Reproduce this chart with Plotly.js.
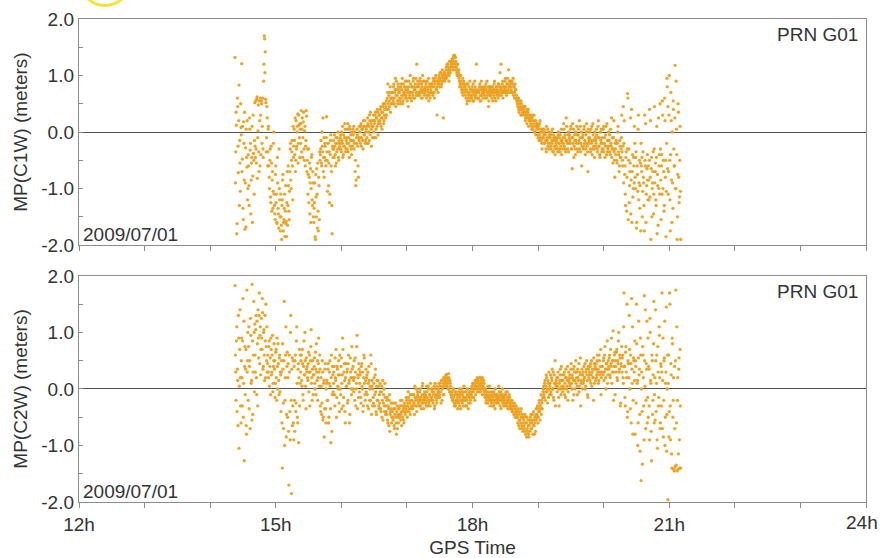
<!DOCTYPE html>
<html>
<head>
<meta charset="utf-8">
<script src="https://cdn.plot.ly/plotly-3.0.1.min.js"></script>
<style>html,body{margin:0;padding:0;background:#fff;}#chart{width:880px;height:558px;}</style>
</head>
<body>
<div id="chart"></div>
<script>
// GPS epochs, first pass (hours)
const epochs = [
14.38,14.39,14.40,14.41,14.42,14.43,14.44,14.45,14.46,14.47,
14.48,14.49,14.50,14.51,14.52,14.53,14.54,14.55,14.56,14.57,
14.58,14.59,14.60,14.61,14.62,14.63,14.64,14.65,14.66,14.67,
14.68,14.69,14.70,14.71,14.72,14.73,14.74,14.75,14.76,14.77,
14.78,14.79,14.80,14.81,14.82,14.83,14.84,14.85,14.86,14.87,
14.88,14.89,14.90,14.91,14.92,14.93,14.94,14.95,14.96,14.97,
14.98,14.99,15.00,15.01,15.02,15.03,15.04,15.05,15.06,15.07,
15.08,15.09,15.10,15.11,15.12,15.13,15.14,15.15,15.16,15.17,
15.18,15.19,15.20,15.21,15.22,15.23,15.24,15.25,15.26,15.27,
15.28,15.29,15.30,15.31,15.32,15.33,15.34,15.35,15.36,15.37,
15.38,15.39,15.40,15.41,15.42,15.43,15.44,15.45,15.46,15.47,
15.48,15.49,15.50,15.51,15.52,15.53,15.54,15.55,15.56,15.57,
15.58,15.59,15.60,15.61,15.62,15.63,15.64,15.65,15.66,15.67,
15.68,15.69,15.70,15.71,15.72,15.73,15.74,15.75,15.76,15.77,
15.78,15.79,15.80,15.81,15.82,15.83,15.84,15.85,15.86,15.87,
15.88,15.89,15.90,15.91,15.92,15.93,15.94,15.95,15.96,15.97,
15.98,15.99,16.00,16.01,16.02,16.03,16.04,16.05,16.06,16.07,
16.08,16.09,16.10,16.11,16.12,16.13,16.14,16.15,16.16,16.17,
16.18,16.19,16.20,16.21,16.22,16.23,16.24,16.25,16.26,16.27,
16.28,16.29,16.30,16.31,16.32,16.33,16.34,16.35,16.36,16.37,
16.38,16.39,16.40,16.41,16.42,16.43,16.44,16.45,16.46,16.47,
16.48,16.49,16.50,16.51,16.52,16.53,16.54,16.55,16.56,16.57,
16.58,16.59,16.60,16.61,16.62,16.63,16.64,16.65,16.66,16.67,
16.68,16.69,16.70,16.71,16.72,16.73,16.74,16.75,16.76,16.77,
16.78,16.79,16.80,16.81,16.82,16.83,16.84,16.85,16.86,16.87,
16.88,16.89,16.90,16.91,16.92,16.93,16.94,16.95,16.96,16.97,
16.98,16.99,17.00,17.01,17.02,17.03,17.04,17.05,17.06,17.07,
17.08,17.09,17.10,17.11,17.12,17.13,17.14,17.15,17.16,17.17,
17.18,17.19,17.20,17.21,17.22,17.23,17.24,17.25,17.26,17.27,
17.28,17.29,17.30,17.31,17.32,17.33,17.34,17.35,17.36,17.37,
17.38,17.39,17.40,17.41,17.42,17.43,17.44,17.45,17.46,17.47,
17.48,17.49,17.50,17.51,17.52,17.53,17.54,17.55,17.56,17.57,
17.58,17.59,17.60,17.61,17.62,17.63,17.64,17.65,17.66,17.67,
17.68,17.69,17.70,17.71,17.72,17.73,17.74,17.75,17.76,17.77,
17.78,17.79,17.80,17.81,17.82,17.83,17.84,17.85,17.86,17.87,
17.88,17.89,17.90,17.91,17.92,17.93,17.94,17.95,17.96,17.97,
17.98,17.99,18.00,18.01,18.02,18.03,18.04,18.05,18.06,18.07,
18.08,18.09,18.10,18.11,18.12,18.13,18.14,18.15,18.16,18.17,
18.18,18.19,18.20,18.21,18.22,18.23,18.24,18.25,18.26,18.27,
18.28,18.29,18.30,18.31,18.32,18.33,18.34,18.35,18.36,18.37,
18.38,18.39,18.40,18.41,18.42,18.43,18.44,18.45,18.46,18.47,
18.48,18.49,18.50,18.51,18.52,18.53,18.54,18.55,18.56,18.57,
18.58,18.59,18.60,18.61,18.62,18.63,18.64,18.65,18.66,18.67,
18.68,18.69,18.70,18.71,18.72,18.73,18.74,18.75,18.76,18.77,
18.78,18.79,18.80,18.81,18.82,18.83,18.84,18.85,18.86,18.87,
18.88,18.89,18.90,18.91,18.92,18.93,18.94,18.95,18.96,18.97,
18.98,18.99,19.00,19.01,19.02,19.03,19.04,19.05,19.06,19.07,
19.08,19.09,19.10,19.11,19.12,19.13,19.14,19.15,19.16,19.17,
19.18,19.19,19.20,19.21,19.22,19.23,19.24,19.25,19.26,19.27,
19.28,19.29,19.30,19.31,19.32,19.33,19.34,19.35,19.36,19.37,
19.38,19.39,19.40,19.41,19.42,19.43,19.44,19.45,19.46,19.47,
19.48,19.49,19.50,19.51,19.52,19.53,19.54,19.55,19.56,19.57,
19.58,19.59,19.60,19.61,19.62,19.63,19.64,19.65,19.66,19.67,
19.68,19.69,19.70,19.71,19.72,19.73,19.74,19.75,19.76,19.77,
19.78,19.79,19.80,19.81,19.82,19.83,19.84,19.85,19.86,19.87,
19.88,19.89,19.90,19.91,19.92,19.93,19.94,19.95,19.96,19.97,
19.98,19.99,20.00,20.01,20.02,20.03,20.04,20.05,20.06,20.07,
20.08,20.09,20.10,20.11,20.12,20.13,20.14,20.15,20.16,20.17,
20.18,20.19,20.20,20.21,20.22,20.23,20.24,20.25,20.26,20.27,
20.28,20.29,20.30,20.31,20.32,20.33,20.34,20.35,20.36,20.37,
20.38,20.39,20.40,20.41,20.42,20.43,20.44,20.45,20.46,20.47,
20.48,20.49,20.50,20.51,20.52,20.53,20.54,20.55,20.56,20.57,
20.58,20.59,20.60,20.61,20.62,20.63,20.64,20.65,20.66,20.67,
20.68,20.69,20.70,20.71,20.72,20.73,20.74,20.75,20.76,20.77,
20.78,20.79,20.80,20.81,20.82,20.83,20.84,20.85,20.86,20.87,
20.88,20.89,20.90,20.91,20.92,20.93,20.94,20.95,20.96,20.97,
20.98,20.99,21.00,21.01,21.02,21.03,21.04,21.05,21.06,21.07,
21.08,21.09,21.10,21.11,21.12,21.13,21.14,21.15,21.16,21.17
];

// MP(C1W) at first-pass epochs (meters)
const mpC1W = [
1.32,-0.35,0.12,-1.62,0.45,-0.72,0.83,-0.15,-1.05,0.08,
1.21,-0.48,-1.35,0.18,-0.85,-1.72,-0.28,0.05,-0.62,-1.2,
-0.4,-0.95,0.25,-0.32,-1.45,-0.55,0.1,-0.78,-0.38,-1.1,
0.52,-0.45,-0.3,0.58,-0.82,0.02,-0.35,0.55,-0.6,0.3,
0.55,-0.2,0.6,-0.45,1.2,1.65,1.42,0.52,-0.1,0.25,
-0.35,0.1,-0.8,-0.5,-1.15,-0.25,-1.4,-0.7,-1.05,0.0,
-1.3,-1.55,-0.6,-1.1,-1.62,-0.9,-1.45,-0.3,-1.2,-1.75,
-1.5,-1.9,-1.2,-0.75,-1.6,-1.35,-1.85,-0.95,-1.58,-1.25,
-1.65,-0.6,-1.4,-1.05,-0.3,-0.85,-0.5,-0.15,-1.2,-0.45,
0.05,-0.4,-0.7,0.2,-0.25,0.1,-0.55,0.3,-0.1,0.15,
-0.2,0.38,0.05,-0.45,0.18,-0.3,0.02,-0.6,-0.15,0.28,
-0.5,-1.1,-0.3,-0.8,-1.45,-0.65,-1.0,-0.4,-1.3,-0.9,
-1.6,-1.25,-1.85,-0.75,-1.5,-1.1,-0.55,-1.75,-0.95,-0.35,
-0.4,-0.15,-0.6,-0.25,0.25,-0.45,-0.8,-0.2,-0.5,-0.1,
-0.35,-1.05,-0.2,-0.55,-1.25,-0.4,-0.05,-0.7,-1.8,-0.3,
-0.15,-0.45,-0.25,-0.6,-0.1,-0.35,-0.2,0.0,-0.5,-0.3,
-0.2,-0.05,-0.35,-0.15,0.1,-0.4,-0.25,-0.1,0.05,-0.3,
-0.1,-0.3,0.15,-0.2,-0.45,0.05,-0.15,-0.3,0.0,-0.25,
-0.05,0.1,-0.2,-0.7,-0.95,-0.1,0.05,-0.25,-0.8,-0.15,
0.0,-0.2,0.15,-0.1,0.05,-0.3,0.1,-0.05,0.2,-0.15,
0.05,-0.1,0.25,-0.2,0.1,0.3,-0.05,0.15,-0.25,0.2,
0.1,0.3,-0.1,0.2,0.35,0.05,0.25,0.4,-0.05,0.2,
0.3,0.15,0.45,0.25,0.05,0.35,0.5,0.2,0.4,0.3,
0.45,0.3,0.6,0.85,0.4,0.55,0.7,0.35,0.6,0.5,
0.7,0.55,0.85,0.6,0.75,0.45,0.9,0.65,0.5,0.8,
0.6,0.75,0.5,0.85,0.65,0.95,0.55,0.7,0.8,0.6,
0.75,0.6,0.9,0.7,0.45,0.8,0.65,1.0,0.7,0.55,
0.8,0.65,0.95,0.75,0.6,0.85,0.7,1.2,0.8,0.65,
0.85,0.7,0.95,0.75,0.6,0.8,1.0,0.7,0.9,0.75,
0.7,0.85,0.6,0.9,0.75,0.95,0.65,0.8,0.7,0.85,
0.85,0.7,0.95,0.8,0.6,0.9,1.0,0.75,0.3,0.85,
0.9,1.0,0.8,0.95,1.05,0.85,1.1,0.9,1.0,0.95,
1.05,0.95,1.15,1.0,1.2,1.1,0.9,1.25,1.05,1.15,
1.2,1.3,1.1,1.35,1.25,1.15,1.32,1.2,1.05,1.1,
1.0,1.1,0.9,0.85,1.0,0.8,0.7,0.95,0.75,0.85,
0.7,0.8,0.6,0.75,0.55,0.85,0.65,0.7,0.9,0.6,
0.75,0.6,0.7,0.85,0.55,0.7,0.8,0.65,1.2,0.7,
0.6,0.75,0.7,0.85,0.65,0.55,0.8,0.7,0.6,0.75,
0.7,0.8,0.6,0.75,0.9,0.65,0.7,0.55,0.8,0.7,
0.65,0.8,0.7,0.55,0.75,0.85,0.6,0.7,0.8,0.65,
0.75,0.6,0.85,0.7,1.05,0.8,0.65,0.75,0.9,0.7,
0.8,0.7,0.95,0.75,0.65,0.85,0.7,1.1,0.8,0.9,
0.85,0.75,0.9,0.7,0.95,0.8,0.6,0.85,0.75,0.65,
0.55,0.45,0.6,0.35,0.5,0.4,0.55,0.3,0.45,0.35,
0.4,0.3,0.45,0.25,0.35,0.15,0.3,0.4,0.2,0.25,
0.2,0.3,0.1,0.25,0.05,0.15,0.3,0.0,0.2,0.1,
0.05,0.15,-0.1,0.1,-0.05,0.2,0.0,-0.15,-0.3,0.05,
-0.1,0.05,-0.2,-0.05,-0.3,0.1,-0.15,-0.25,0.0,-0.1,
-0.2,-0.05,-0.3,-0.15,0.05,-0.35,-0.1,-0.25,-0.4,-0.15,
-0.25,-0.1,-0.35,0.0,-0.2,-0.3,-0.05,-0.15,-0.4,-0.2,
-0.1,0.15,-0.25,-0.05,-0.35,0.25,-0.15,-0.3,0.0,-0.2,
-0.05,-0.2,0.1,-0.3,-0.65,-0.1,0.05,-0.25,-0.15,-0.4,
-0.15,0.1,-0.3,-0.05,-0.2,0.2,-0.1,-0.35,0.0,-0.25,
-0.1,-0.3,0.05,-0.2,-0.4,-0.05,0.15,-0.25,-0.7,-0.1,
-0.2,0.0,-0.35,-0.15,0.1,-0.3,-0.05,-0.25,-0.45,-0.1,
-0.15,0.05,-0.3,-0.1,0.2,-0.25,-0.4,0.0,-0.2,-0.35,
-0.1,-0.3,0.1,-0.2,-0.45,-0.05,-0.25,0.15,-0.35,-0.15,
-0.25,-0.05,-0.4,-0.2,0.25,-0.3,-0.55,-0.1,-0.35,-0.8,
-0.3,-0.15,-0.5,-0.2,0.1,-0.4,-0.6,-0.25,-0.45,-0.1,
-0.35,-0.6,0.45,-0.2,-0.75,-1.1,-0.45,-1.4,-0.3,0.6,
-0.5,-1.25,-0.7,0.25,-0.85,-1.6,-0.4,-1.0,-0.6,0.1,
-0.8,-0.45,-1.7,-0.6,-1.05,0.3,-0.9,-1.35,-0.55,-0.2,
-0.7,-1.5,-0.35,-0.9,-1.75,-0.5,0.15,-1.1,-0.65,-0.85,
-0.6,-1.2,0.4,-0.8,-1.9,-0.45,-1.0,-0.7,-1.45,-0.3,
-0.9,-0.55,-1.3,0.1,-0.75,-1.65,-1.0,-0.4,0.5,-0.85,
-0.6,-1.1,0.3,-0.5,-1.4,0.6,-0.8,-1.85,-0.2,0.8,
0.45,-0.7,1.0,-1.2,-0.4,0.2,-1.6,-0.9,0.55,-0.3,
-0.6,1.18,-1.0,0.05,-1.9,-0.75,0.35,-1.25,-0.5,-1.05
];

// MP(C2W) at first-pass epochs (meters)
const mpC2W = [
1.83,0.3,0.85,-0.4,0.15,1.3,-1.05,0.7,0.2,-0.6,
0.9,-0.3,1.6,0.1,-1.27,0.75,0.35,-0.65,1.75,0.5,
-0.2,1.1,0.4,-0.7,0.95,0.15,1.85,-0.45,0.6,1.0,
1.15,0.3,1.3,-0.1,0.8,1.4,0.55,1.7,0.95,0.25,
1.25,0.7,1.35,0.4,1.05,0.15,0.85,1.5,0.5,0.3,
0.6,0.2,0.85,0.4,-0.1,0.7,0.3,0.95,0.1,0.5,
0.35,-0.15,0.65,0.2,0.9,0.0,0.45,-0.1,0.6,0.3,
-0.4,0.5,-1.4,0.35,-0.7,1.55,-0.2,0.6,-0.85,0.4,
-0.5,0.45,-1.7,0.3,-0.9,1.3,-1.85,0.55,-0.3,-0.6,
0.4,-0.75,0.6,-0.25,1.1,-0.5,0.35,-0.95,0.7,0.1,
0.3,0.6,0.05,0.45,-0.2,0.85,0.25,0.5,-0.35,0.35,
0.4,0.15,0.65,0.3,-0.3,0.5,1.05,0.2,0.35,-0.1,
0.25,0.55,0.0,0.35,0.8,0.15,-0.2,0.45,0.3,0.6,
-0.3,0.2,-0.45,0.5,-0.55,0.1,-0.85,0.35,-0.35,0.0,
0.15,-0.2,0.45,-0.5,0.3,0.05,-0.95,0.6,-0.1,0.25,
0.1,0.4,-0.3,0.2,0.7,-0.15,0.35,0.0,0.5,-0.4,
0.25,-0.1,0.55,0.1,0.9,-0.3,0.3,0.15,-0.6,0.45,
0.05,0.35,-0.2,0.6,0.15,-0.45,0.3,0.0,0.75,0.2,
0.4,-0.05,0.2,0.55,-0.3,0.1,0.95,0.25,-0.15,0.35,
0.1,0.3,-0.25,0.45,0.0,-0.4,0.2,0.55,-0.1,0.15,
-0.05,0.25,-0.3,0.1,0.4,-0.2,0.05,0.6,-0.45,0.15,
0.0,-0.25,0.2,-0.1,0.35,-0.4,0.05,-0.2,0.15,-0.3,
-0.1,0.1,-0.35,-0.05,-0.5,0.15,-0.25,0.0,-0.4,-0.15,
-0.3,-0.45,-0.15,-0.6,-0.35,-0.2,-0.75,-0.4,-0.25,-0.5,
-0.4,-0.55,-0.25,-0.7,-0.35,-0.5,-0.8,-0.3,-0.45,-0.6,
-0.35,-0.5,-0.2,-0.45,-0.65,-0.3,-0.4,-0.55,-0.25,-0.4,
-0.3,-0.15,-0.4,-0.25,-0.05,-0.35,-0.2,-0.45,-0.1,-0.3,
-0.2,-0.35,-0.1,-0.25,0.05,-0.3,-0.15,-0.4,-0.05,-0.2,
-0.15,-0.3,0.0,-0.2,-0.35,-0.1,0.1,-0.25,-0.15,-0.05,
-0.1,-0.25,0.05,-0.15,-0.3,0.0,-0.2,-0.1,0.1,-0.2,
-0.15,0.0,-0.25,-0.05,-0.35,0.1,-0.1,-0.2,0.05,-0.15,
-0.05,0.1,-0.15,0.05,-0.25,0.15,0.0,-0.1,0.2,0.05,
0.2,0.1,0.25,0.05,0.15,0.0,0.2,-0.05,0.1,-0.1,
-0.15,-0.05,-0.2,0.0,-0.25,-0.1,-0.3,-0.05,-0.2,-0.15,
-0.1,-0.25,0.0,-0.15,-0.35,-0.05,-0.2,-0.1,-0.3,0.05,
-0.2,-0.05,-0.15,-0.3,0.0,-0.1,-0.25,-0.15,-0.05,-0.2,
-0.1,0.05,-0.05,0.1,-0.15,0.0,0.15,-0.1,0.05,0.2,
0.05,0.15,-0.05,0.1,0.2,0.0,0.1,-0.1,0.05,0.15,
-0.05,-0.15,0.0,-0.2,-0.1,-0.25,-0.05,-0.15,0.05,-0.2,
-0.15,-0.25,-0.05,-0.2,-0.3,-0.1,-0.2,0.0,-0.15,-0.25,
-0.1,-0.2,0.05,-0.15,-0.3,-0.05,-0.2,-0.1,-0.25,-0.15,
-0.2,-0.1,-0.3,-0.05,-0.25,-0.15,-0.35,-0.2,-0.1,-0.3,
-0.25,-0.35,-0.2,-0.4,-0.3,-0.45,-0.25,-0.5,-0.35,-0.4,
-0.45,-0.6,-0.35,-0.55,-0.7,-0.4,-0.5,-0.65,-0.45,-0.75,
-0.55,-0.7,-0.45,-0.8,-0.6,-0.5,-0.75,-0.65,-0.85,-0.55,
-0.6,-0.45,-0.7,-0.55,-0.8,-0.4,-0.65,-0.5,-0.75,-0.35,
-0.5,-0.3,-0.6,-0.4,-0.2,-0.55,-0.35,-0.45,-0.25,-0.15,
0.0,-0.1,0.1,-0.2,0.05,0.2,-0.05,0.15,-0.15,0.0,
0.05,0.25,-0.1,0.15,0.0,0.3,-0.2,0.1,0.5,0.05,
0.1,-0.05,0.2,0.0,-0.3,0.15,0.35,-0.1,0.05,0.25,
0.15,0.0,0.3,0.1,-0.15,0.2,0.05,0.4,-0.05,0.15,
0.2,0.05,0.35,0.1,0.25,-0.2,0.15,0.4,0.0,0.3,
0.1,0.3,-0.1,0.2,0.45,0.05,0.25,-0.3,0.15,0.35,
0.25,0.1,0.4,0.2,0.0,0.3,0.5,0.15,-0.15,0.35,
0.3,0.15,0.45,0.25,0.05,0.35,0.2,0.55,0.1,0.4,
0.35,0.2,0.5,0.3,0.1,0.6,0.25,0.4,-0.1,0.3,
0.4,0.25,0.55,0.3,0.75,0.2,0.45,0.35,0.1,0.5,
0.35,0.6,0.2,0.45,0.9,0.3,0.5,-0.2,0.4,0.65,
0.5,0.3,0.7,0.15,0.45,1.0,0.35,0.55,-0.25,0.4,
0.3,0.6,0.1,1.7,0.4,-0.3,0.75,0.2,-0.5,0.5,
0.45,1.3,0.0,0.6,-0.6,0.35,1.1,-0.2,0.5,0.15,
-0.8,0.4,1.5,0.1,-1.0,0.55,0.25,-0.45,0.9,-1.62,
0.3,-1.33,0.6,-0.3,1.65,0.05,-0.7,0.45,1.2,-0.15,
-0.5,0.35,-0.9,1.0,0.1,-1.27,0.5,-0.2,0.8,-0.6,
0.2,1.4,-0.4,0.6,-1.05,0.3,-0.15,0.95,-0.7,0.45,
-0.3,1.7,0.15,-0.85,0.5,1.2,-0.5,0.3,-1.1,0.0,
-1.96,0.6,-0.4,1.5,-0.9,0.25,-1.4,0.8,-0.2,-1.42,
0.4,-1.38,1.75,-0.6,-1.45,0.2,-1.15,0.55,-1.4,-0.3
];

// GPS epochs, second pass (hours)
const epochsB = [
14.385,14.395,14.405,14.415,14.425,14.435,14.445,14.455,14.465,14.475,
14.485,14.495,14.505,14.515,14.525,14.535,14.545,14.555,14.565,14.575,
14.585,14.595,14.605,14.615,14.625,14.635,14.645,14.655,14.665,14.675,
14.685,14.695,14.705,14.715,14.725,14.735,14.745,14.755,14.765,14.775,
14.785,14.795,14.805,14.815,14.825,14.835,14.845,14.855,14.865,14.875,
14.885,14.895,14.905,14.915,14.925,14.935,14.945,14.955,14.965,14.975,
14.985,14.995,15.005,15.015,15.025,15.035,15.045,15.055,15.065,15.075,
15.085,15.095,15.105,15.115,15.125,15.135,15.145,15.155,15.165,15.175,
15.185,15.195,15.205,15.215,15.225,15.235,15.245,15.255,15.265,15.275,
15.285,15.295,15.305,15.315,15.325,15.335,15.345,15.355,15.365,15.375,
15.385,15.395,15.405,15.415,15.425,15.435,15.445,15.455,15.465,15.475,
15.485,15.495,15.505,15.515,15.525,15.535,15.545,15.555,15.565,15.575,
15.585,15.595,15.605,15.615,15.625,15.635,15.645,15.655,15.665,15.675,
15.685,15.695,15.705,15.715,15.725,15.735,15.745,15.755,15.765,15.775,
15.785,15.795,15.805,15.815,15.825,15.835,15.845,15.855,15.865,15.875,
15.885,15.895,15.905,15.915,15.925,15.935,15.945,15.955,15.965,15.975,
15.985,15.995,16.005,16.015,16.025,16.035,16.045,16.055,16.065,16.075,
16.085,16.095,16.105,16.115,16.125,16.135,16.145,16.155,16.165,16.175,
16.185,16.195,16.205,16.215,16.225,16.235,16.245,16.255,16.265,16.275,
16.285,16.295,16.305,16.315,16.325,16.335,16.345,16.355,16.365,16.375,
16.385,16.395,16.405,16.415,16.425,16.435,16.445,16.455,16.465,16.475,
16.485,16.495,16.505,16.515,16.525,16.535,16.545,16.555,16.565,16.575,
16.585,16.595,16.605,16.615,16.625,16.635,16.645,16.655,16.665,16.675,
16.685,16.695,16.705,16.715,16.725,16.735,16.745,16.755,16.765,16.775,
16.785,16.795,16.805,16.815,16.825,16.835,16.845,16.855,16.865,16.875,
16.885,16.895,16.905,16.915,16.925,16.935,16.945,16.955,16.965,16.975,
16.985,16.995,17.005,17.015,17.025,17.035,17.045,17.055,17.065,17.075,
17.085,17.095,17.105,17.115,17.125,17.135,17.145,17.155,17.165,17.175,
17.185,17.195,17.205,17.215,17.225,17.235,17.245,17.255,17.265,17.275,
17.285,17.295,17.305,17.315,17.325,17.335,17.345,17.355,17.365,17.375,
17.385,17.395,17.405,17.415,17.425,17.435,17.445,17.455,17.465,17.475,
17.485,17.495,17.505,17.515,17.525,17.535,17.545,17.555,17.565,17.575,
17.585,17.595,17.605,17.615,17.625,17.635,17.645,17.655,17.665,17.675,
17.685,17.695,17.705,17.715,17.725,17.735,17.745,17.755,17.765,17.775,
17.785,17.795,17.805,17.815,17.825,17.835,17.845,17.855,17.865,17.875,
17.885,17.895,17.905,17.915,17.925,17.935,17.945,17.955,17.965,17.975,
17.985,17.995,18.005,18.015,18.025,18.035,18.045,18.055,18.065,18.075,
18.085,18.095,18.105,18.115,18.125,18.135,18.145,18.155,18.165,18.175,
18.185,18.195,18.205,18.215,18.225,18.235,18.245,18.255,18.265,18.275,
18.285,18.295,18.305,18.315,18.325,18.335,18.345,18.355,18.365,18.375,
18.385,18.395,18.405,18.415,18.425,18.435,18.445,18.455,18.465,18.475,
18.485,18.495,18.505,18.515,18.525,18.535,18.545,18.555,18.565,18.575,
18.585,18.595,18.605,18.615,18.625,18.635,18.645,18.655,18.665,18.675,
18.685,18.695,18.705,18.715,18.725,18.735,18.745,18.755,18.765,18.775,
18.785,18.795,18.805,18.815,18.825,18.835,18.845,18.855,18.865,18.875,
18.885,18.895,18.905,18.915,18.925,18.935,18.945,18.955,18.965,18.975,
18.985,18.995,19.005,19.015,19.025,19.035,19.045,19.055,19.065,19.075,
19.085,19.095,19.105,19.115,19.125,19.135,19.145,19.155,19.165,19.175,
19.185,19.195,19.205,19.215,19.225,19.235,19.245,19.255,19.265,19.275,
19.285,19.295,19.305,19.315,19.325,19.335,19.345,19.355,19.365,19.375,
19.385,19.395,19.405,19.415,19.425,19.435,19.445,19.455,19.465,19.475,
19.485,19.495,19.505,19.515,19.525,19.535,19.545,19.555,19.565,19.575,
19.585,19.595,19.605,19.615,19.625,19.635,19.645,19.655,19.665,19.675,
19.685,19.695,19.705,19.715,19.725,19.735,19.745,19.755,19.765,19.775,
19.785,19.795,19.805,19.815,19.825,19.835,19.845,19.855,19.865,19.875,
19.885,19.895,19.905,19.915,19.925,19.935,19.945,19.955,19.965,19.975,
19.985,19.995,20.005,20.015,20.025,20.035,20.045,20.055,20.065,20.075,
20.085,20.095,20.105,20.115,20.125,20.135,20.145,20.155,20.165,20.175,
20.185,20.195,20.205,20.215,20.225,20.235,20.245,20.255,20.265,20.275,
20.285,20.295,20.305,20.315,20.325,20.335,20.345,20.355,20.365,20.375,
20.385,20.395,20.405,20.415,20.425,20.435,20.445,20.455,20.465,20.475,
20.485,20.495,20.505,20.515,20.525,20.535,20.545,20.555,20.565,20.575,
20.585,20.595,20.605,20.615,20.625,20.635,20.645,20.655,20.665,20.675,
20.685,20.695,20.705,20.715,20.725,20.735,20.745,20.755,20.765,20.775,
20.785,20.795,20.805,20.815,20.825,20.835,20.845,20.855,20.865,20.875,
20.885,20.895,20.905,20.915,20.925,20.935,20.945,20.955,20.965,20.975,
20.985,20.995,21.005,21.015,21.025,21.035,21.045,21.055,21.065,21.075,
21.085,21.095,21.105,21.115,21.125,21.135,21.145,21.155,21.165,21.175
];

// MP(C1W) at second-pass epochs (meters)
const mpC1W_B = [
-0.9,0.35,-1.8,0.6,-0.25,0.2,-1.3,-0.55,0.5,-0.05,
-0.7,0.1,-1.55,-0.2,0.35,-0.9,-1.68,-0.45,0.2,-1.0,
-0.6,-1.3,0.05,-0.2,-0.85,-0.45,-1.6,0.3,-0.5,-0.15,
-0.25,0.55,-0.55,0.62,-0.1,0.48,-0.7,0.2,0.6,-0.4,
0.5,0.1,-0.3,0.9,1.7,1.05,0.58,-0.35,0.45,-0.6,
0.05,-0.6,-1.0,-0.3,-1.25,-0.55,-0.85,-1.35,-0.2,-1.1,
-1.45,-0.75,-1.25,-1.6,-0.45,-1.35,-1.7,-1.0,-1.5,-1.1,
-1.65,-1.3,-0.85,-1.75,-1.55,-1.1,-1.4,-1.62,-1.85,-0.7,
-1.3,-0.95,-1.55,-0.7,-0.2,-1.0,-0.35,-0.6,0.1,-0.25,
-0.15,0.25,-0.5,-0.3,0.0,0.32,-0.2,0.12,-0.45,0.05,
0.15,-0.35,0.25,-0.1,0.35,-0.5,0.1,-0.25,0.38,-0.7,
-0.3,-0.75,-1.25,-0.55,-0.9,-1.6,-0.45,-1.2,-0.7,-1.5,
-1.35,-0.9,-1.9,-1.15,-0.65,-1.7,-1.4,-0.8,-1.55,-0.5,
-0.3,-0.55,0.0,-0.35,-0.7,-0.1,-0.45,-0.25,-0.6,0.27,
-0.5,-0.2,-0.95,-0.35,-1.1,-0.15,-0.6,-1.3,-0.25,-0.45,
-0.3,-0.05,-0.4,-0.2,-0.55,-0.1,-0.3,-0.45,-0.15,-0.25,
-0.1,-0.3,0.0,-0.2,-0.45,-0.05,-0.25,0.15,-0.35,-0.15,
-0.2,0.05,-0.35,-0.1,0.1,-0.25,-0.05,-0.4,-0.15,0.05,
-0.15,-0.3,0.0,-0.5,-0.85,-0.2,-0.05,-0.6,-0.1,0.1,
-0.1,0.1,-0.25,0.05,-0.15,0.2,-0.05,0.1,-0.2,0.0,
0.1,-0.2,0.15,0.0,-0.15,0.2,0.35,0.05,0.1,-0.1,
0.2,0.0,0.15,0.3,-0.1,0.25,0.1,0.35,0.15,0.3,
0.2,0.4,0.1,0.35,0.25,0.45,0.15,0.3,0.5,0.25,
0.55,0.4,0.7,0.5,0.65,0.45,0.8,0.6,0.5,0.7,
0.6,0.8,0.5,0.7,0.95,0.65,0.75,0.55,0.85,0.7,
0.7,0.55,0.8,0.6,0.75,0.5,0.85,0.65,0.7,0.9,
0.65,0.8,0.55,0.75,0.9,0.6,0.7,0.85,0.6,0.8,
0.7,0.9,0.6,0.8,0.75,0.95,0.65,0.8,0.9,0.7,
0.8,0.65,0.9,0.7,0.85,0.6,0.75,0.9,0.65,0.8,
0.75,0.9,0.65,0.8,0.7,0.55,0.85,0.6,0.75,0.7,
0.8,0.65,0.9,0.7,0.85,0.95,0.75,0.8,0.9,0.7,
0.95,0.85,1.05,0.9,0.8,1.0,0.95,0.25,1.05,0.9,
1.0,1.1,0.95,1.2,1.05,1.15,1.0,1.1,1.25,1.2,
1.25,1.15,1.3,1.2,1.36,1.1,1.25,1.15,1.0,1.2,
1.05,0.95,0.8,1.0,0.9,0.75,0.85,0.65,0.9,0.8,
0.75,0.65,0.85,0.5,0.7,0.6,0.8,0.55,0.75,0.65,
0.65,0.8,0.55,0.75,0.65,0.9,0.6,0.75,0.7,0.6,
0.7,0.6,0.8,0.55,0.75,0.9,0.65,0.75,0.7,0.8,
0.65,0.75,0.85,0.6,0.7,0.8,0.45,0.75,0.65,0.8,
0.75,0.6,0.8,0.7,0.65,0.9,0.75,0.55,0.7,0.8,
0.7,0.85,0.65,0.8,0.75,1.2,0.7,0.85,0.6,0.8,
0.75,0.9,0.8,0.7,0.85,0.95,0.75,0.8,0.9,0.7,
0.8,0.9,0.7,0.85,0.65,0.8,0.7,0.75,0.6,0.55,
0.5,0.6,0.4,0.55,0.45,0.3,0.5,0.4,0.35,0.45,
0.35,0.45,0.2,0.3,0.4,0.25,0.35,0.1,0.3,0.2,
0.15,0.25,0.05,0.2,0.3,0.1,0.0,0.2,-0.05,0.15,
0.1,-0.05,0.05,-0.15,0.15,-0.1,0.05,-0.2,0.0,-0.1,
-0.05,-0.2,0.0,-0.15,-0.35,-0.1,0.05,-0.2,-0.3,-0.05,
-0.1,-0.25,0.0,-0.2,-0.35,-0.05,-0.15,-0.3,-0.1,-0.2,
-0.15,-0.3,-0.05,-0.2,-0.1,-0.35,-0.25,0.05,-0.15,-0.3,
-0.2,0.05,-0.1,-0.3,-0.15,0.1,-0.2,-0.05,-0.35,-0.1,
-0.15,0.05,-0.3,-0.1,0.15,-0.2,-0.45,-0.05,-0.3,0.0,
-0.2,-0.05,-0.35,0.05,-0.15,-0.3,0.1,-0.2,-0.6,-0.1,
-0.05,-0.25,0.1,-0.15,-0.3,0.0,-0.2,-0.35,0.05,-0.15,
-0.1,-0.3,0.05,-0.2,-0.4,0.15,-0.15,-0.3,0.0,-0.25,
-0.2,-0.05,-0.35,0.1,-0.25,-0.1,-0.45,-0.15,0.05,-0.3,
-0.2,0.05,-0.35,-0.1,-0.25,0.1,-0.4,-0.15,-0.3,0.0,
-0.15,-0.35,0.05,-0.25,-0.45,-0.1,-0.3,0.2,-0.5,-0.2,
-0.4,-0.2,-0.55,0.0,-0.35,-0.7,-0.15,-0.45,-0.3,0.3,
-0.5,-0.25,-0.9,0.2,-0.6,-1.3,-0.35,-0.8,0.68,-1.55,
-0.3,-0.95,-0.55,-1.45,0.4,-0.7,-1.15,-0.45,-0.9,-0.2,
-1.0,-0.35,-1.6,-0.75,0.05,-1.2,-0.5,-0.95,-1.75,-0.6,
-0.45,-1.05,-0.8,-1.3,0.3,-0.6,-1.6,-0.95,-0.4,-1.2,
-0.85,-0.5,-1.15,0.2,-0.65,-1.5,-0.9,-0.35,-1.1,0.45,
-0.7,-1.2,-0.45,-1.8,-0.95,0.25,-0.6,-1.1,-0.3,-1.55,
-0.4,0.55,-1.0,-0.7,-1.3,0.2,-0.5,-1.05,0.95,-0.65,
-1.1,0.3,-0.5,-1.75,0.7,-0.85,0.0,-1.35,0.4,-0.6,
0.25,-1.0,0.9,-0.4,-1.5,0.5,-0.8,-1.15,0.1,-1.9
];

// MP(C2W) at second-pass epochs (meters)
const mpC2W_B = [
0.6,-0.2,1.1,0.35,-0.65,0.9,0.05,1.4,-0.3,0.5,
0.2,0.85,-0.5,1.2,0.4,-0.1,0.7,-0.8,0.3,1.0,
0.75,-0.35,0.5,1.25,0.1,-0.55,0.85,0.3,1.55,-0.05,
0.6,1.05,0.2,1.2,-0.3,0.9,1.3,0.45,1.1,0.7,
0.9,1.6,0.35,1.0,0.6,1.3,0.2,0.75,1.1,0.45,
0.3,0.75,0.05,0.55,0.9,0.25,0.6,-0.05,0.4,0.8,
0.5,0.1,0.7,-0.2,0.4,0.8,0.15,0.55,-0.05,0.25,
0.3,-0.6,0.8,-0.25,0.5,-1.0,0.2,1.1,-0.45,0.65,
0.2,-0.75,0.6,-0.4,1.0,-0.2,0.35,-0.65,0.5,-0.9,
-0.2,0.5,-0.4,0.85,0.1,-0.6,0.45,0.2,-0.3,0.6,
0.5,0.15,0.7,-0.1,0.4,0.25,1.0,0.05,0.55,0.3,
0.2,0.45,-0.05,0.6,0.3,0.75,0.1,-0.2,0.5,0.25,
0.4,0.1,0.65,-0.1,0.3,0.5,0.2,0.9,0.05,0.35,
-0.4,0.05,-0.25,0.3,-0.5,0.15,-0.35,0.45,-0.6,0.1,
-0.2,0.35,-0.6,0.1,0.5,-0.35,0.2,-0.75,0.4,-0.05,
0.3,-0.1,0.55,0.15,-0.5,0.4,0.05,0.25,-0.25,0.6,
0.0,0.4,-0.35,0.25,0.7,-0.15,0.45,-0.4,0.2,0.05,
0.3,-0.25,0.45,0.1,-0.6,0.55,0.2,-0.1,0.35,0.0,
0.15,0.5,-0.2,0.3,0.0,0.75,-0.35,0.2,0.45,-0.05,
0.25,-0.15,0.4,0.05,0.3,-0.3,0.6,0.1,-0.2,0.35,
0.2,-0.1,0.3,-0.35,0.15,0.0,-0.2,0.45,0.05,-0.3,
-0.15,0.1,-0.3,0.25,-0.05,-0.45,0.15,-0.2,0.05,-0.35,
-0.25,-0.05,-0.4,0.05,-0.2,-0.55,-0.1,-0.3,0.1,-0.45,
-0.4,-0.2,-0.55,-0.3,-0.65,-0.1,-0.45,-0.35,-0.6,-0.25,
-0.5,-0.35,-0.65,-0.45,-0.25,-0.6,-0.4,-0.7,-0.5,-0.35,
-0.45,-0.3,-0.55,-0.4,-0.2,-0.5,-0.35,-0.6,-0.3,-0.45,
-0.35,-0.2,-0.5,-0.3,-0.15,-0.4,-0.25,-0.1,-0.35,-0.2,
-0.3,-0.1,-0.25,-0.45,-0.15,-0.2,0.0,-0.3,-0.1,-0.25,
-0.2,-0.05,-0.3,-0.15,-0.25,0.05,-0.2,-0.35,-0.1,-0.2,
-0.15,-0.3,-0.05,-0.2,0.05,-0.25,-0.1,-0.3,-0.15,0.0,
-0.05,-0.2,-0.1,0.05,-0.3,-0.15,0.0,-0.25,-0.1,-0.05,
0.0,-0.1,0.1,-0.05,0.15,-0.2,0.05,0.1,-0.1,0.15,
0.15,0.25,0.05,0.2,0.1,0.27,0.0,0.15,0.05,-0.05,
-0.1,-0.2,0.0,-0.15,-0.3,-0.05,-0.2,-0.25,-0.1,-0.35,
-0.2,-0.05,-0.3,-0.1,-0.2,0.0,-0.25,-0.15,-0.05,-0.2,
-0.15,-0.3,-0.05,-0.2,-0.1,-0.35,-0.15,-0.05,-0.25,-0.1,
0.0,-0.15,0.1,-0.05,0.05,-0.2,0.1,0.0,0.15,-0.05,
0.1,0.0,0.2,0.05,-0.05,0.15,0.05,0.2,0.0,0.1,
-0.1,0.0,-0.25,-0.05,-0.15,0.05,-0.2,-0.1,-0.3,-0.05,
-0.2,-0.1,-0.3,-0.15,-0.05,-0.25,-0.35,-0.1,-0.2,-0.15,
-0.15,-0.25,-0.05,-0.2,-0.1,-0.35,-0.15,0.0,-0.2,-0.3,
-0.15,-0.25,-0.1,-0.2,-0.3,-0.05,-0.2,-0.25,-0.15,-0.35,
-0.3,-0.2,-0.4,-0.25,-0.35,-0.3,-0.45,-0.4,-0.3,-0.5,
-0.5,-0.4,-0.65,-0.45,-0.55,-0.6,-0.35,-0.7,-0.5,-0.6,
-0.65,-0.5,-0.75,-0.6,-0.85,-0.7,-0.55,-0.8,-0.65,-0.75,
-0.5,-0.7,-0.6,-0.45,-0.65,-0.55,-0.8,-0.6,-0.45,-0.55,
-0.45,-0.35,-0.5,-0.25,-0.4,-0.3,-0.1,-0.2,-0.35,-0.05,
0.05,-0.15,0.15,-0.05,0.25,0.0,-0.25,0.1,0.3,-0.1,
0.1,-0.05,0.2,0.35,0.0,-0.15,0.25,0.1,-0.3,0.15,
0.2,0.05,0.3,-0.15,0.1,0.25,0.0,0.4,0.15,-0.05,
0.05,0.25,-0.1,0.2,0.35,0.0,0.15,-0.2,0.3,0.1,
0.25,0.1,0.45,0.0,0.2,0.35,-0.1,0.3,0.15,0.5,
0.2,0.05,0.35,0.15,-0.05,0.3,0.55,0.1,0.25,0.0,
0.3,0.15,0.2,0.45,0.05,0.35,0.25,-0.1,0.4,0.2,
0.25,0.4,0.1,0.5,0.3,0.2,-0.2,0.45,0.35,0.15,
0.45,0.25,0.6,0.35,0.15,0.5,0.3,0.7,0.2,0.4,
0.3,0.5,0.15,0.6,0.35,0.0,0.45,0.85,0.25,0.4,
0.55,0.25,0.7,0.4,0.1,0.5,1.03,0.3,0.6,-0.1,
0.4,0.65,0.2,0.5,0.85,0.3,0.6,-0.3,0.45,0.75,
0.55,0.2,1.1,0.4,-0.15,0.65,0.3,1.5,-0.4,0.45,
0.2,0.7,-0.35,0.45,1.6,0.1,-0.8,0.55,0.3,0.85,
0.5,-0.25,0.8,0.15,-0.6,1.2,0.35,-1.1,0.6,0.0,
-0.4,0.75,0.2,-0.9,0.5,1.4,-0.2,0.35,-0.6,0.9,
0.4,-0.3,1.25,0.15,-0.75,0.6,-0.45,0.25,1.55,-0.1,
-0.55,0.5,0.1,-0.9,0.75,-0.3,1.1,0.2,-0.6,0.4,
0.3,-0.7,0.9,-0.2,0.55,-1.0,0.1,1.45,-0.45,0.6,
0.1,-0.85,1.7,-0.3,0.45,-1.15,0.9,-0.5,0.2,-1.45,
-0.7,0.5,-1.35,1.1,-0.2,-1.42,0.35,-0.9,0.7,-1.4
];

const xTickVals = [12,13,14,15,16,17,18,19,20,21,22,23,24];
const xTickText = ['12h','','','15h','','','18h','','','21h','','',''];
const lastTickLabel = '24h';
const yTickVals = [-2,-1.5,-1,-0.5,0,0.5,1,1.5,2];
const yTickText = ['-2.0','','-1.0','','0.0','','1.0','','2.0'];
const panelLabel = 'PRN G01';
const dateLabel = '2009/07/01';

const FONT = 'Liberation Sans, Arial, Helvetica, sans-serif';
const TXT = '#333333';
const ORANGE = '#EBA01E';
const FRAME = '#8c8c8c';

const marker = {color: ORANGE, size: 3.3, opacity: 0.95};

const traces = [
  {x: epochs.concat(epochsB), y: mpC1W.concat(mpC1W_B), type: 'scatter', mode: 'markers', marker: marker, xaxis: 'x', yaxis: 'y'},
  {x: epochs.concat(epochsB), y: mpC2W.concat(mpC2W_B), type: 'scatter', mode: 'markers', marker: marker, xaxis: 'x2', yaxis: 'y2'}
];

function xAxis(showLabels, anchor) {
  return {
    anchor: anchor, domain: [0, 1], range: [12, 24],
    tickmode: 'array', tickvals: xTickVals, ticktext: xTickText,
    showticklabels: showLabels,
    ticks: 'outside', ticklen: 5, tickwidth: 1, tickcolor: FRAME,
    showline: true, mirror: true, linecolor: FRAME, linewidth: 1.2,
    showgrid: false, zeroline: false,
    tickfont: {family: FONT, size: 19, color: TXT}
  };
}
function yAxis(domain, anchor, title) {
  return {
    anchor: anchor, domain: domain, range: [-2, 2],
    tickmode: 'array', tickvals: yTickVals, ticktext: yTickText,
    ticks: 'inside', ticklen: 4, tickwidth: 1, tickcolor: FRAME,
    showline: true, mirror: true, linecolor: FRAME, linewidth: 1.2,
    showgrid: false, zeroline: true, zerolinecolor: '#555', zerolinewidth: 1,
    tickfont: {family: FONT, size: 19, color: TXT},
    title: {text: title, font: {family: FONT, size: 19, color: TXT}, standoff: 8}
  };
}

const xa2 = xAxis(true, 'y2');
xa2.title = {text: 'GPS Time', font: {family: FONT, size: 19, color: TXT}, standoff: 6};

const layout = {
  width: 880, height: 558,
  margin: {l: 79, r: 14, t: 19, b: 56},
  paper_bgcolor: '#fff', plot_bgcolor: '#fff',
  showlegend: false,
  xaxis: xAxis(false, 'y'),
  yaxis: yAxis([0.532, 1], 'x', 'MP(C1W) (meters)'),
  xaxis2: xa2,
  yaxis2: yAxis([0, 0.468], 'x2', 'MP(C2W) (meters)'),
  annotations: [
    {xref: 'x domain', yref: 'y domain', x: 0.992, y: 0.985, xanchor: 'right', yanchor: 'top', showarrow: false,
     text: panelLabel, font: {family: FONT, size: 19, color: TXT}},
    {xref: 'x2 domain', yref: 'y2 domain', x: 0.992, y: 0.985, xanchor: 'right', yanchor: 'top', showarrow: false,
     text: panelLabel, font: {family: FONT, size: 19, color: TXT}},
    {xref: 'x domain', yref: 'y domain', x: 0.003, y: -0.01, xanchor: 'left', yanchor: 'bottom', showarrow: false,
     text: dateLabel, font: {family: FONT, size: 19, color: TXT}},
    {xref: 'x2 domain', yref: 'y2 domain', x: 0.003, y: -0.01, xanchor: 'left', yanchor: 'bottom', showarrow: false,
     text: dateLabel, font: {family: FONT, size: 19, color: TXT}},
    {xref: 'x2', yref: 'y2 domain', x: 24, y: 0, xanchor: 'right', yanchor: 'top', xshift: 13, yshift: -9,
     showarrow: false, borderpad: 0, text: lastTickLabel, font: {family: FONT, size: 19, color: TXT}}
  ],
  shapes: [
    {type: 'circle', xref: 'paper', yref: 'paper', x0: 0.0, x1: 0.066, y0: 1.028, y1: 1.14,
     line: {color: '#F5E33A', width: 3}}
  ]
};

Plotly.newPlot('chart', traces, layout, {displayModeBar: false, staticPlot: true});
</script>
</body>
</html>
